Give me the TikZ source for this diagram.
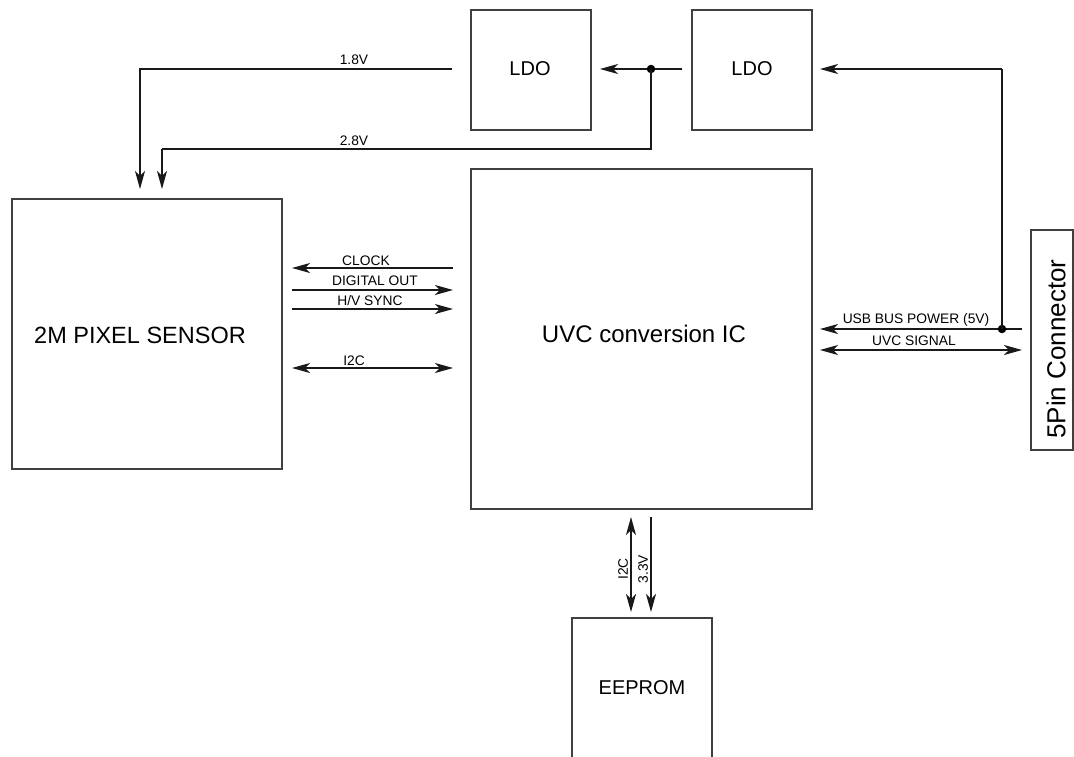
\documentclass[tikz,border=0pt]{standalone}
\usepackage{fontspec}
\setmainfont{Liberation Sans}
\usetikzlibrary{arrows.meta}
\tikzset{
  box/.style={draw=black!75, line width=1.5pt, fill=none, inner sep=0pt, rectangle, anchor=center},
  tip/.tip={Stealth[length=18pt,width=10pt,inset=5pt]},
  arr/.style={draw=black!90, line width=1.2pt, -tip},
  darr/.style={draw=black!90, line width=1.2pt, tip-tip},
  wire/.style={draw=black!90, line width=1.2pt},
  lbl/.style={font=\fontsize{13.8}{14}\selectfont, inner sep=0pt},
  blbl/.style={inner sep=0pt},
  dotj/.style={circle, fill=black, inner sep=0pt, minimum size=8.5pt},
}
\begin{document}
\begin{tikzpicture}[x=1pt,y=-1pt]
\useasboundingbox (0,0) rectangle (1074,756);
\fill[white] (0,0) rectangle (1074,756);

% boxes
\node[box, minimum width=120pt, minimum height=120pt] (LDO1) at (531,70) {};
\node[blbl, font=\fontsize{20}{21}\selectfont] (LDO1T) at (530,69) {LDO};
\node[box, minimum width=120pt, minimum height=120pt] (LDO2) at (752,70) {};
\node[blbl, font=\fontsize{20}{21}\selectfont] (LDO2T) at (752,69) {LDO};
\node[box, minimum width=341pt, minimum height=340pt] (UVC) at (641.5,339) {};
\node[blbl, font=\fontsize{24}{25}\selectfont] (UVCT) at (644,334) {UVC conversion IC};
\node[box, minimum width=270pt, minimum height=270pt] (SEN) at (147,334) {};
\node[blbl, font=\fontsize{23.5}{24}\selectfont] (SENT) at (140,335) {2M PIXEL SENSOR};
\node[box, minimum width=42pt, minimum height=220pt] (CON) at (1052,340) {};
\node[blbl, font=\fontsize{26}{27}\selectfont, rotate=90] (CONT) at (1056,349) {5Pin Connector};
\node[box, minimum width=140pt, minimum height=146pt] (EEP) at (642,691) {};
\node[blbl, font=\fontsize{20}{21}\selectfont] (EEPT) at (642,688) {EEPROM};

% junctions and free ends
\coordinate (j1) at (651,69);
\coordinate (l2out) at (682,69);
\coordinate (ldo1in) at (600,69);
\coordinate (s18) at (452,69);
\coordinate (t18) at (140,189);
\coordinate (t28) at (162,189);
\coordinate (j2) at (1002,329);
\coordinate (usbR) at (1022,329);
\coordinate (usbL) at (820,329);
\coordinate (ldo2in) at (820,69);
\coordinate (uvcR) at (1022,350);
\coordinate (uvcL) at (820,350);
\coordinate (sL) at (292,0);
\coordinate (sR) at (453,0);

% top power
\draw[arr] (l2out) -- (ldo1in);
\node[dotj] (J1) at (j1) {};
\draw[wire] (s18) -| (140,150);
\draw[arr] (140,150) -- (t18);
\draw[wire] (J1.center) |- (162,149);
\draw[arr] (162,149) -- (t28);
\node[lbl] (L18) at (354,60) {1.8V};
\node[lbl] (L28) at (354,141) {2.8V};

% sensor <-> UVC
\draw[arr] (sR |- 0,268) -- (sL |- 0,268);
\draw[arr] (sL |- 0,290) -- (sR |- 0,290);
\draw[arr] (sL |- 0,309) -- (sR |- 0,309);
\draw[darr] (sL |- 0,368) -- (sR |- 0,368);
\node[lbl] (LCLK) at (366,261) {CLOCK};
\node[lbl] (LDIG) at (375,281) {DIGITAL OUT};
\node[lbl] (LHV) at (370,301) {H/V SYNC};
\node[lbl] (LI2C) at (354,361) {I2C};

% connector side
\draw[arr] (usbR) -- (usbL);
\node[dotj] (J2) at (j2) {};
\draw[wire] (J2.center) -- (1002,69);
\draw[arr] (1002,69) -- (ldo2in);
\draw[darr] (uvcL) -- (uvcR);
\node[lbl] (LUSB) at (916,320) {USB BUS POWER (5V)};
\node[lbl] (LUVC) at (914,341) {UVC SIGNAL};

% UVC <-> EEPROM
\draw[darr] (631,517) -- (631,612);
\draw[arr] (651,517) -- (651,612);
\node[lbl, rotate=90] (LI2Cb) at (623,569) {I2C};
\node[lbl, rotate=90] (L33) at (643,569) {3.3V};
\end{tikzpicture}
\end{document}
